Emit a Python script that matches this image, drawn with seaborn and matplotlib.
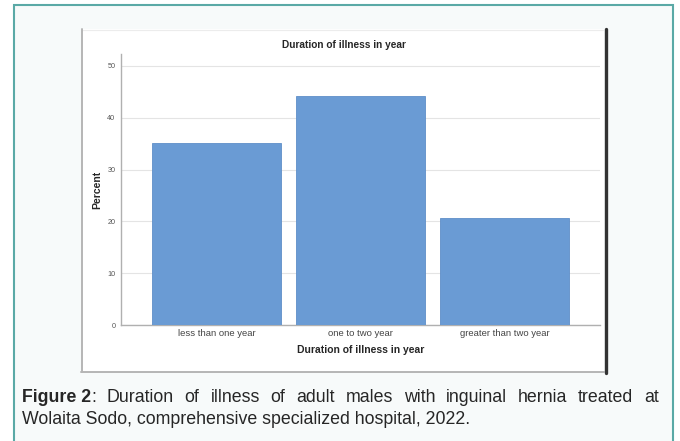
import numpy as np
import pandas as pd
import matplotlib
matplotlib.use('Agg')
import matplotlib.pyplot as plt
import seaborn as sns
from matplotlib.patches import Rectangle
from matplotlib.lines import Line2D

# data
categories = ['less than one year', 'one to two year', 'greater than two year']
percent = [35.2, 44.1, 20.7]
yticks = [0, 10, 20, 30, 40, 50]

caption_bold = 'Figure 2'
caption_line1 = ': Duration of illness of adult males with inguinal hernia treated at'
caption_line2 = 'Wolaita Sodo, comprehensive specialized hospital, 2022.'

sns.set_style('white')
plt.rcParams['font.family'] = ['Liberation Sans', 'DejaVu Sans']

W, H = 680, 441
fig = plt.figure(figsize=(W / 100, H / 100), dpi=100)
fig.patch.set_facecolor('white')

def px(x0, y0, x1, y1):
    # pixel box -> figure fraction (left, bottom, width, height)
    return (x0 / W, 1 - y1 / H, (x1 - x0) / W, (y1 - y0) / H)

def fline(xs, ys, **kw):
    fig.lines.append(Line2D([x / W for x in xs], [1 - y / H for y in ys],
                            transform=fig.transFigure, zorder=-1, **kw))

# outer teal frame (bottom edge falls outside the image)
l, b, w, h = px(14, 5, 673, 460)
fig.patches.append(Rectangle((l, b), w, h, transform=fig.transFigure,
                             facecolor='#f7fafa', edgecolor='#5aa9a6', linewidth=1.5, zorder=-3))
# chart panel
l, b, w, h = px(81, 29, 604, 372)
fig.patches.append(Rectangle((l, b), w, h, transform=fig.transFigure,
                             facecolor='white', edgecolor='none', zorder=-2))
fline([81.5, 603], [29.5, 29.5], color='#ececec', linewidth=0.8)
fline([81.5, 81.5], [29, 372], color='#b5b5b5', linewidth=1.4)
fline([81, 604], [371.5, 371.5], color='#b5b5b5', linewidth=1.4)
fline([605.5, 605.5], [29, 373], color='#333333', linewidth=2.4)

ax = fig.add_axes(px(121, 54, 600, 325))
ax.set_facecolor('none')
df = pd.DataFrame({'duration': categories, 'percent': percent})
sns.barplot(data=df, x='duration', y='percent', color='#6a9bd4', saturation=1,
            width=0.896, edgecolor='#5f8fc8', linewidth=0.6, ax=ax, zorder=3)

ax.set_xlim(-0.663, 2.663)
ax.set_ylim(0, 52.3)
ax.set_yticks(yticks)
ax.set_yticklabels([str(t) for t in yticks], fontsize=5.2, color='#555555')
ax.yaxis.grid(True, color='#e4e4e4', linewidth=0.8, zorder=0)
ax.set_axisbelow(True)
ax.tick_params(axis='y', length=0, pad=4)
ax.tick_params(axis='x', length=0, pad=3, labelsize=6.8, labelcolor='#444444')
for s in ['top', 'right']:
    ax.spines[s].set_visible(False)
for s in ['left', 'bottom']:
    ax.spines[s].set_color('#b0b0b0')
    ax.spines[s].set_linewidth(1.0)

ax.set_ylabel('Percent', fontsize=7.5, fontweight='bold', labelpad=4)
ax.set_xlabel('Duration of illness in year', fontsize=7.5, fontweight='bold', labelpad=5)
fig.text(344 / W, 1 - 45 / H, 'Duration of illness in year', fontsize=7.3,
         fontweight='bold', ha='center', va='center')

# caption, first line justified
fig.canvas.draw()
renderer = fig.canvas.get_renderer()
x_left, x_right = 22, 659
y1 = 1 - 397 / H
y2 = 1 - 420 / H
fs = 12.8
head = fig.text(0, y1, caption_bold, fontsize=fs, fontweight='bold', va='center', ha='left')
colon = fig.text(0, y1, ':', fontsize=fs, va='center', ha='left')
hw = head.get_window_extent(renderer).width
cw = colon.get_window_extent(renderer).width
texts = [fig.text(0, y1, wd, fontsize=fs, va='center', ha='left')
         for wd in caption_line1[2:].split()]
widths = [hw + cw] + [t.get_window_extent(renderer).width for t in texts]
gap = (x_right - x_left - sum(widths)) / (len(widths) - 1)
head.set_x(x_left / W)
colon.set_x((x_left + hw) / W)
x = x_left + widths[0] + gap
for t, wdt in zip(texts, widths[1:]):
    t.set_x(x / W)
    x += wdt + gap
fig.text(x_left / W, y2, caption_line2, fontsize=fs, va='center', ha='left')

fig.savefig('out.png', dpi=100, facecolor=fig.get_facecolor())
